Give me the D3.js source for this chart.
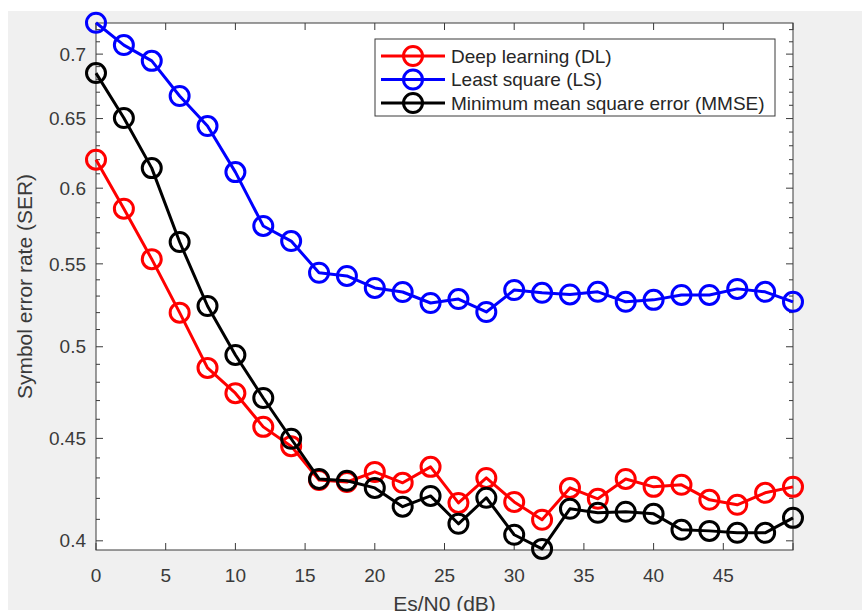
<!DOCTYPE html>
<html>
<head>
<meta charset="utf-8">
<script src="https://cdn.jsdelivr.net/npm/d3@7"></script>
<style>
  body { margin: 0; background: #fff; }
  svg { display: block; font-family: "Liberation Sans", Arial, sans-serif; }
</style>
</head>
<body>
<svg id="chart" width="862" height="611"></svg>
<script>
// Es/N0 in dB
const snr = [0, 2, 4, 6, 8, 10, 12, 14, 16, 18, 20, 22, 24, 26, 28, 30, 32, 34, 36, 38, 40, 42, 44, 46, 48, 50];
const dl = [0.620, 0.586, 0.553, 0.520, 0.488, 0.474, 0.456, 0.446, 0.429, 0.428, 0.433, 0.4276, 0.4355, 0.4178, 0.430, 0.4183,
  0.4098, 0.4251, 0.4198, 0.4295, 0.4256, 0.4266, 0.4193, 0.4169, 0.4227, 0.4256];
const ls = [0.7257, 0.7073, 0.6946, 0.6671, 0.6444, 0.6112, 0.5745, 0.5646, 0.5444, 0.5424, 0.5350, 0.5325, 0.5258, 0.5282, 0.5204, 0.5337,
  0.5320, 0.5310, 0.5326, 0.5265, 0.5277, 0.5307, 0.5307, 0.5344, 0.5326, 0.5265];
const mmse = [0.6849, 0.6504, 0.6140, 0.5640, 0.5240, 0.4953, 0.4714, 0.4498, 0.4295, 0.4286, 0.4251, 0.4160, 0.4212, 0.4079, 0.4203, 0.4028,
  0.3963, 0.4150, 0.4131, 0.4136, 0.4126, 0.4051, 0.4046, 0.4037, 0.4037, 0.4107];
const xTicks = [0, 5, 10, 15, 20, 25, 30, 35, 40, 45, 50];
const xTickLabels = ['0', '5', '10', '15', '20', '25', '30', '35', '40', '45', ''];
const yTicks = [0.4, 0.45, 0.5, 0.55, 0.6, 0.65, 0.7];
const yMinor = [0.41, 0.42, 0.43, 0.44, 0.46, 0.47, 0.48, 0.49, 0.51, 0.52, 0.53, 0.54, 0.56, 0.57, 0.58, 0.59,
  0.61, 0.62, 0.63, 0.64, 0.66, 0.67, 0.68, 0.69, 0.71, 0.72];
const seriesNames = ['Deep learning (DL)', 'Least square (LS)', 'Minimum mean square error (MMSE)'];
const seriesColors = ['#ff0000', '#0000ff', '#000000'];

const svg = d3.select('#chart');
const plotL = 96, plotT = 23, plotR = 793, plotB = 550;
const axisColor = '#3a3a3a';

svg.append('rect').attr('x', 8).attr('y', 11).attr('width', 854).attr('height', 599).attr('fill', '#f0f0f0');
svg.append('rect').attr('x', plotL).attr('y', plotT).attr('width', plotR - plotL).attr('height', plotB - plotT).attr('fill', '#fff');

const x = d3.scaleLinear().domain([0, 50]).range([plotL, plotR]);
const y = d3.scaleLog().domain([0.3958, 0.7255]).range([plotB, plotT]);

// ticks (inward, on all four sides)
const g = svg.append('g').attr('stroke', axisColor).attr('stroke-width', 1);
xTicks.forEach(t => {
  g.append('line').attr('x1', x(t)).attr('x2', x(t)).attr('y1', plotB).attr('y2', plotB - 7);
  g.append('line').attr('x1', x(t)).attr('x2', x(t)).attr('y1', plotT).attr('y2', plotT + 7);
});
yTicks.forEach(t => {
  g.append('line').attr('x1', plotL).attr('x2', plotL + 7).attr('y1', y(t)).attr('y2', y(t));
  g.append('line').attr('x1', plotR).attr('x2', plotR - 7).attr('y1', y(t)).attr('y2', y(t));
});
yMinor.forEach(t => {
  g.append('line').attr('x1', plotL).attr('x2', plotL + 4).attr('y1', y(t)).attr('y2', y(t));
  g.append('line').attr('x1', plotR).attr('x2', plotR - 4).attr('y1', y(t)).attr('y2', y(t));
});
svg.append('rect').attr('x', plotL).attr('y', plotT).attr('width', plotR - plotL).attr('height', plotB - plotT)
  .attr('fill', 'none').attr('stroke', axisColor).attr('stroke-width', 1);

// tick labels
svg.selectAll('.xl').data(xTicks).enter().append('text')
  .attr('x', d => x(d)).attr('y', 582).attr('text-anchor', 'middle')
  .attr('font-size', 19).attr('fill', axisColor).text((d, i) => xTickLabels[i]);
svg.selectAll('.yl').data(yTicks).enter().append('text')
  .attr('x', 86).attr('y', d => y(d)).attr('dy', '0.35em').attr('text-anchor', 'end')
  .attr('font-size', 19).attr('fill', axisColor).text(d => String(d));

svg.append('text').attr('x', (plotL + plotR) / 2).attr('y', 611).attr('text-anchor', 'middle')
  .attr('font-size', 21).attr('fill', axisColor).text('Es/N0 (dB)');
svg.append('text').attr('transform', `translate(32,${(plotT + plotB) / 2}) rotate(-90)`).attr('text-anchor', 'middle')
  .attr('font-size', 21).attr('fill', axisColor).text('Symbol error rate (SER)');

// series
const allSeries = [dl, ls, mmse];
const line = d3.line().x((d, i) => x(snr[i])).y(d => y(d));
allSeries.forEach((vals, k) => {
  const s = svg.append('g');
  s.append('path').attr('d', line(vals)).attr('fill', 'none')
    .attr('stroke', seriesColors[k]).attr('stroke-width', 3).attr('stroke-linejoin', 'round');
  s.selectAll('circle').data(vals).enter().append('circle')
    .attr('cx', (d, i) => x(snr[i])).attr('cy', d => y(d)).attr('r', 9.5)
    .attr('fill', 'none').attr('stroke', seriesColors[k]).attr('stroke-width', 3);
});

// legend
const lg = svg.append('g');
lg.append('rect').attr('x', 375).attr('y', 39).attr('width', 400).attr('height', 77)
  .attr('fill', '#fff').attr('stroke', axisColor).attr('stroke-width', 1);
seriesNames.forEach((name, k) => {
  const ly = 56 + k * 23.5;
  lg.append('line').attr('x1', 381).attr('x2', 445).attr('y1', ly).attr('y2', ly)
    .attr('stroke', seriesColors[k]).attr('stroke-width', 3);
  lg.append('circle').attr('cx', 413).attr('cy', ly).attr('r', 9.5)
    .attr('fill', 'none').attr('stroke', seriesColors[k]).attr('stroke-width', 3);
  lg.append('text').attr('x', 451).attr('y', ly).attr('dy', '0.35em')
    .attr('font-size', 19).attr('fill', '#262626').text(name);
});
</script>
</body>
</html>
